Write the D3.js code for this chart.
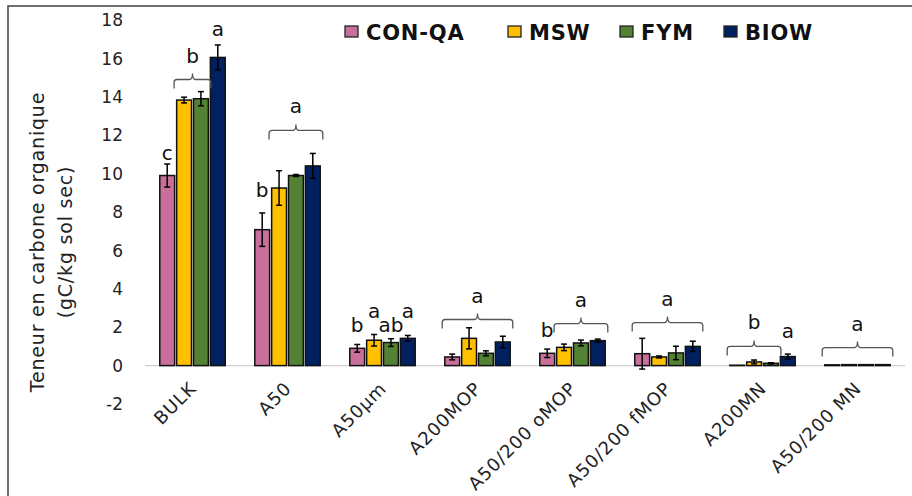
<!DOCTYPE html>
<html lang="fr">
  <head>
    <meta charset="UTF-8" />
    <title>Teneur en carbone organique</title>
    <style>
      body {
        margin: 0;
        background: #fff;
      }
      svg {
        font-family: 'DejaVu Sans', sans-serif;
      }
    </style>
  </head>
  <body>
    <svg width="912" height="496"></svg>
    <script src="https://d3js.org/d3.v7.min.js"></script>
    <script>
      // fractions
      const categories = ['BULK', 'A50', 'A50µm', 'A200MOP', 'A50/200 oMOP', 'A50/200 fMOP', 'A200MN', 'A50/200 MN'];
      const series = ['CON-QA', 'MSW', 'FYM', 'BIOW'];
      const colors = ['#c8709b', '#ffc000', '#548235', '#002060'];

      // means (gC/kg sol sec) and errors
      const conqa = [9.9, 7.08, 0.9, 0.45, 0.64, 0.62, 0.02, 0.04];
      const conqaErr = [0.6, 0.87, 0.2, 0.15, 0.22, 0.8, 0.01, 0.01];
      const msw = [13.83, 9.25, 1.32, 1.42, 0.95, 0.45, 0.19, 0.05];
      const mswErr = [0.15, 0.9, 0.3, 0.55, 0.17, 0.05, 0.1, 0.01];
      const fym = [13.9, 9.9, 1.2, 0.64, 1.18, 0.66, 0.12, 0.05];
      const fymErr = [0.37, 0.05, 0.2, 0.13, 0.15, 0.35, 0.03, 0.01];
      const biow = [16.05, 10.4, 1.42, 1.23, 1.3, 1.0, 0.47, 0.05];
      const biowErr = [0.65, 0.65, 0.15, 0.3, 0.08, 0.27, 0.13, 0.01];

      const yTicks = [-2, 0, 2, 4, 6, 8, 10, 12, 14, 16, 18];

      // letters over single bars: [category, bar, letter, level]
      const letters = [
        ['BULK', 0, 'c', 11.0],
        ['BULK', 3, 'a', 17.5],
        ['A50', 0, 'b', 9.1],
        ['A50µm', 0, 'b', 2.08],
        ['A50µm', 1, 'a', 2.8],
        ['A50µm', 2, 'ab', 2.08],
        ['A50µm', 3, 'a', 2.8],
        ['A50/200 oMOP', 0, 'b', 1.82],
        ['A200MN', 3, 'a', 1.77],
      ];
      // braces over several bars: [category, from, to, letter, level]
      const braces = [
        ['BULK', 1, 2, 'b', 14.9],
        ['A50', 1, 3, 'a', 12.25],
        ['A200MOP', 0, 3, 'a', 2.4],
        ['A50/200 oMOP', 1, 3, 'a', 2.19],
        ['A50/200 fMOP', 0, 3, 'a', 2.24],
        ['A200MN', 0, 2, 'b', 1.0],
        ['A50/200 MN', 0, 3, 'a', 0.94],
      ];

      const values = [conqa, msw, fym, biow];
      const errs = [conqaErr, mswErr, fymErr, biowErr];

      const svg = d3.select('svg');

      // frame
      svg.append('rect')
        .attr('x', 8).attr('y', 6)
        .attr('width', 920).attr('height', 520)
        .attr('fill', 'none')
        .attr('stroke', '#404040')
        .attr('stroke-width', 1.5);

      const x0 = d3.scaleBand().domain(categories).range([145, 905])
        .paddingInner(0.29).paddingOuter(0.145);
      const x1 = d3.scaleBand().domain(d3.range(series.length)).range([0, x0.bandwidth()])
        .paddingInner(0.12).paddingOuter(0.06);
      const y = d3.scaleLinear().domain([-2, 18]).range([404, 20]);

      const barX = (cat, i) => x0(cat) + x1(i);
      const barC = (cat, i) => barX(cat, i) + x1.bandwidth() / 2;

      // y tick labels
      svg.append('g')
        .selectAll('text')
        .data(yTicks)
        .join('text')
        .attr('x', 123)
        .attr('y', (d) => y(d))
        .attr('dy', '0.36em')
        .attr('text-anchor', 'end')
        .attr('font-size', 17)
        .attr('fill', '#222')
        .text((d) => d);

      // zero line
      svg.append('line')
        .attr('x1', x0.range()[0]).attr('x2', x0.range()[1])
        .attr('y1', y(0)).attr('y2', y(0))
        .attr('stroke', '#d0d0d0')
        .attr('stroke-width', 1.2);

      // axis title
      const title = svg.append('text')
        .attr('transform', 'translate(44,242) rotate(-90)')
        .attr('text-anchor', 'middle')
        .attr('font-size', 19)
        .attr('letter-spacing', 0.8)
        .attr('fill', '#222');
      title.append('tspan').attr('x', 0).attr('dy', 0).text('Teneur en carbone organique');
      title.append('tspan').attr('x', 0).attr('dy', 28).text('(gC/kg sol sec)');

      // bars
      const flat = [];
      categories.forEach((c, ci) => series.forEach((s, si) => {
        flat.push({ cat: c, si, v: values[si][ci], e: errs[si][ci] });
      }));

      svg.append('g')
        .selectAll('rect')
        .data(flat)
        .join('rect')
        .attr('x', (d) => barX(d.cat, d.si))
        .attr('y', (d) => y(d.v))
        .attr('width', x1.bandwidth())
        .attr('height', (d) => y(0) - y(d.v))
        .attr('fill', (d) => colors[d.si])
        .attr('stroke', '#111')
        .attr('stroke-width', 1.5);

      // error bars
      const eb = svg.append('g')
        .attr('stroke', '#000')
        .attr('stroke-width', 1.5)
        .selectAll('g')
        .data(flat.filter((d) => d.e > 0.02))
        .join('g');
      eb.append('line')
        .attr('x1', (d) => barC(d.cat, d.si)).attr('x2', (d) => barC(d.cat, d.si))
        .attr('y1', (d) => y(d.v - d.e)).attr('y2', (d) => y(d.v + d.e));
      eb.append('line')
        .attr('x1', (d) => barC(d.cat, d.si) - 3).attr('x2', (d) => barC(d.cat, d.si) + 3)
        .attr('y1', (d) => y(d.v + d.e)).attr('y2', (d) => y(d.v + d.e));
      eb.append('line')
        .attr('x1', (d) => barC(d.cat, d.si) - 3).attr('x2', (d) => barC(d.cat, d.si) + 3)
        .attr('y1', (d) => y(d.v - d.e)).attr('y2', (d) => y(d.v - d.e));

      // category labels
      svg.append('g')
        .selectAll('text')
        .data(categories)
        .join('text')
        .attr('transform', (d) => `translate(${x0(d) + x0.bandwidth() / 2 + 5},${y(0) + 24}) rotate(-45)`)
        .attr('text-anchor', 'end')
        .attr('font-size', 18)
        .attr('letter-spacing', 0.9)
        .attr('fill', '#222')
        .text((d) => d);

      // significance letters
      svg.append('g')
        .selectAll('text')
        .data(letters)
        .join('text')
        .attr('x', (d) => barC(d[0], d[1]))
        .attr('y', (d) => y(d[3]))
        .attr('dy', '0.3em')
        .attr('text-anchor', 'middle')
        .attr('font-size', 20)
        .attr('fill', '#111')
        .text((d) => d[2]);

      const brace = (xa, xb, yt) => {
        const xm = (xa + xb) / 2, yb = yt + 9;
        return `M${xa},${yb} L${xa},${yt + 3} Q${xa},${yt} ${xa + 3},${yt} L${xm - 3},${yt}` +
          ` Q${xm},${yt} ${xm},${yt - 6} Q${xm},${yt} ${xm + 3},${yt} L${xb - 3},${yt}` +
          ` Q${xb},${yt} ${xb},${yt + 3} L${xb},${yb}`;
      };

      const bg = svg.append('g').selectAll('g').data(braces).join('g');
      bg.append('path')
        .attr('d', (d) => brace(barC(d[0], d[1]) - 10, barC(d[0], d[2]) + 10, y(d[4])))
        .attr('fill', 'none')
        .attr('stroke', '#555')
        .attr('stroke-width', 1.3);
      bg.append('text')
        .attr('x', (d) => (barC(d[0], d[1]) + barC(d[0], d[2])) / 2)
        .attr('y', (d) => y(d[4]) - 23)
        .attr('dy', '0.3em')
        .attr('text-anchor', 'middle')
        .attr('font-size', 20)
        .attr('fill', '#111')
        .text((d) => d[3]);

      // legend
      const legendX = [345, 508, 620, 724];
      const leg = svg.append('g')
        .selectAll('g')
        .data(series)
        .join('g')
        .attr('transform', (d, i) => `translate(${legendX[i]},26)`);
      leg.append('rect')
        .attr('width', 13).attr('height', 11)
        .attr('fill', (d, i) => colors[i])
        .attr('stroke', '#222')
        .attr('stroke-width', 1.3);
      leg.append('text')
        .attr('x', 21)
        .attr('y', 6)
        .attr('dy', '0.36em')
        .attr('font-size', 21)
        .attr('font-weight', 'bold')
        .attr('letter-spacing', 0.8)
        .attr('fill', '#111')
        .text((d) => d);
    </script>
  </body>
</html>
